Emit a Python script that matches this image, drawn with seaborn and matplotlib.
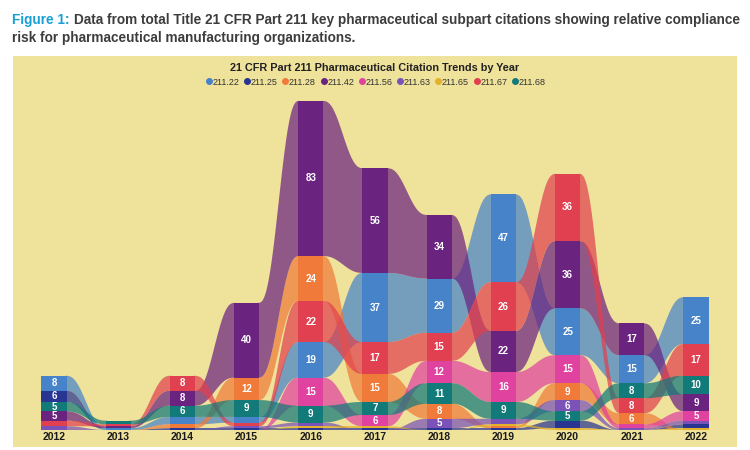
import numpy as np
import pandas as pd
import seaborn as sns
import matplotlib.pyplot as plt
from matplotlib.lines import Line2D

years = ['2012', '2013', '2014', '2015', '2016', '2017', '2018', '2019', '2020', '2021', '2022']
codes = ['211.22', '211.25', '211.28', '211.42', '211.56', '211.63', '211.65', '211.67', '211.68']

# citations per subpart, one list per subpart (2012..2022)
c_21122 = [8, 1, 4, 3, 19, 37, 29, 47, 25, 15, 25]
c_21125 = [6, 0, 1, 1, 1, 1, 1, 1, 4, 0, 2]
c_21128 = [0, 0, 2, 12, 24, 15, 8, 1, 9, 6, 0]
c_21142 = [5, 1, 8, 40, 83, 56, 34, 22, 36, 17, 9]
c_21156 = [0, 0, 0, 0, 15, 6, 12, 16, 15, 2, 5]
c_21163 = [2, 0, 0, 1, 2, 0, 5, 3, 6, 1, 2]
c_21165 = [0, 0, 0, 0, 1, 1, 0, 1, 1, 0, 1]
c_21167 = [3, 1, 8, 2, 22, 17, 15, 26, 36, 8, 17]
c_21168 = [5, 2, 6, 9, 9, 7, 11, 9, 5, 8, 10]

colors = ['#4683c9', '#283593', '#f07a3a', '#6b2380', '#e042a0',
          '#7a52b8', '#e3b22a', '#e0404f', '#137a7a']

df = pd.DataFrame([c_21122, c_21125, c_21128, c_21142, c_21156,
                   c_21163, c_21165, c_21167, c_21168], index=codes, columns=years)

sns.set_theme(style='white')
plt.rcParams['font.family'] = ['Liberation Sans', 'DejaVu Sans']

fig = plt.figure(figsize=(7.5, 4.5), dpi=100)
W, H = 750, 450
ax = fig.add_axes([13 / W, 3 / H, 724 / W, 391 / H])
bg = '#efe29b'
ax.set_facecolor(bg)

step = 64.2
x0 = 54
ax.set_xlim((13 - x0) / step, (737 - x0) / step)
ppu = 1.87
ax.set_ylim(-(447 - 430) / ppu, (430 - 56) / ppu)
for s in ax.spines.values():
    s.set_visible(False)
ax.set_xticks([])
ax.set_yticks([])

bw = 0.39
n = len(years)

# stack positions: largest on top, ties -> later code on top
bottoms = pd.DataFrame(0.0, index=codes, columns=years)
for y in years:
    order = sorted(range(len(codes)), key=lambda k: (df[y].iloc[k], k))
    cum = 0.0
    for k in order:
        bottoms.loc[codes[k], y] = cum
        cum += df[y].iloc[k]


def smooth(t):
    return t * t * t * (t * (6 * t - 15) + 10)


# ribbons
for k, code in enumerate(codes):
    for i in range(n - 1):
        xa, xb = i + bw / 2 - 0.02, i + 1 - bw / 2 + 0.02
        xs = np.linspace(xa, xb, 80)
        s = smooth((xs - xa) / (xb - xa))
        b0, b1 = bottoms.loc[code, years[i]], bottoms.loc[code, years[i + 1]]
        t0 = b0 + df.loc[code, years[i]]
        t1 = b1 + df.loc[code, years[i + 1]]
        lo = b0 + (b1 - b0) * s
        hi = t0 + (t1 - t0) * s
        ax.fill_between(xs, lo, hi, color=colors[k], alpha=0.72, lw=0,
                        edgecolor='none', zorder=1)

# bars and labels
for k, code in enumerate(codes):
    ax.bar(range(n), df.loc[code], bottom=bottoms.loc[code], width=bw,
           color=colors[k], lw=0, edgecolor='none', zorder=2)
    for i, y in enumerate(years):
        v = df.loc[code, y]
        if v >= 5:
            ax.text(i, bottoms.loc[code, y] + v / 2, str(v), ha='center', va='center',
                    color='white', fontsize=7, fontweight='bold', zorder=3)

for i, y in enumerate(years):
    ax.text(i, -3.8, y, ha='center', va='center', fontsize=7.5,
            fontweight='bold', color='#1a1a1a', zorder=3)

# chart title and legend
ax.text(0.5, 1 - 7 / 391, '21 CFR Part 211 Pharmaceutical Citation Trends by Year',
        transform=ax.transAxes, ha='center', va='top', fontsize=7.8,
        fontweight='bold', color='#222222')
handles = [Line2D([], [], marker='o', ls='', color=c, markersize=4) for c in colors]
ax.legend(handles, codes, loc='upper center', bbox_to_anchor=(0.5, 1 - 18 / 391),
          ncol=9, frameon=False, fontsize=6.5, handletextpad=-0.1, columnspacing=0.35,
          handlelength=1.0, labelcolor='#333333', borderaxespad=0)

# figure caption, sized to fit the figure width
cap_size = 10
t1 = fig.text(12 / W, 1 - 20 / H, 'Figure 1:', fontsize=cap_size, fontweight='bold',
              color='#1a9fd4', va='center')
t2 = fig.text(0, 1 - 20 / H,
              'Data from total Title 21 CFR Part 211 key pharmaceutical subpart citations showing relative compliance',
              fontsize=cap_size, fontweight='bold', color='#3d3d3d', va='center')
t3 = fig.text(12 / W, 1 - 38 / H, 'risk for pharmaceutical manufacturing organizations.',
              fontsize=cap_size, fontweight='bold', color='#3d3d3d', va='center')
fig.canvas.draw()
r = fig.canvas.get_renderer()
total = t1.get_window_extent(r).width + 4 + t2.get_window_extent(r).width
cap_size = cap_size * 726 / total
for t in (t1, t2, t3):
    t.set_fontsize(cap_size)
fig.canvas.draw()
bb = t1.get_window_extent(r)
t2.set_x((bb.x1 + 4) / W)

fig.savefig('out.png', dpi=100, facecolor='white')
